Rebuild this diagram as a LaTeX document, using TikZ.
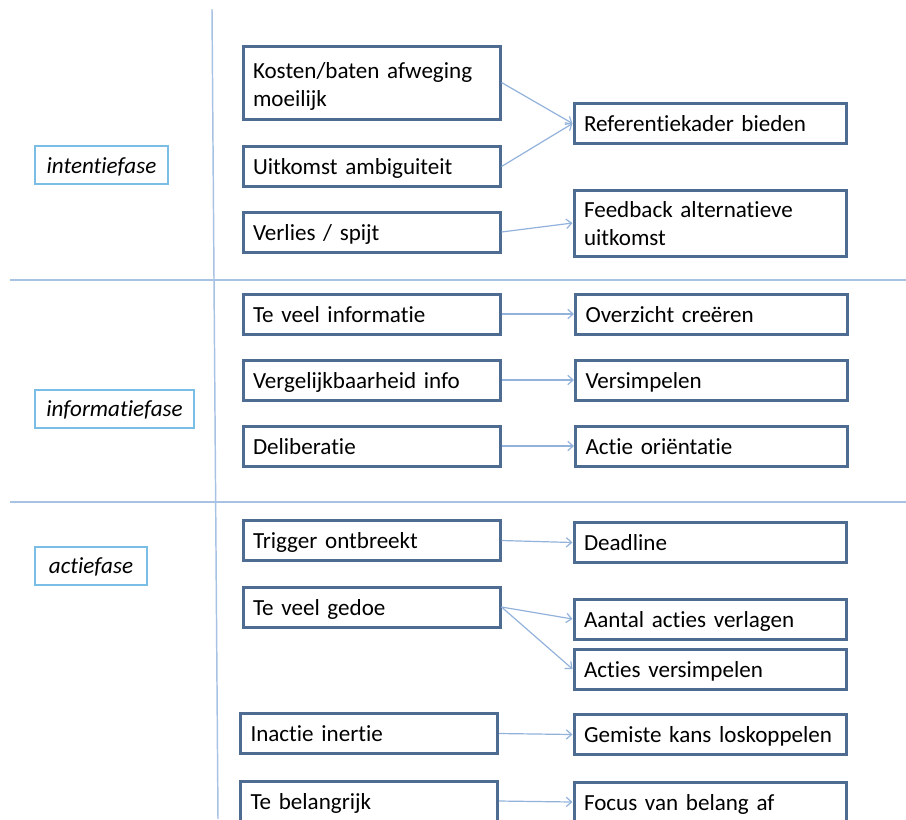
\documentclass[tikz,border=0pt]{standalone}
\usepackage{fontspec}
\setmainfont{Carlito}[Ligatures={NoCommon}]
\usetikzlibrary{arrows.meta}
\definecolor{boxblue}{RGB}{78,108,146}
\definecolor{lblblue}{RGB}{122,190,230}
\definecolor{sepblue}{RGB}{168,194,228}
\definecolor{arrblue}{RGB}{146,178,220}
\begin{document}
\begin{tikzpicture}[x=0.75pt,y=-0.75pt,
  base/.style={draw=boxblue, line width=2.25pt, inner xsep=7.5pt, inner ysep=0pt,
    minimum height=30pt, align=left, text height=12pt, text depth=0pt,
    font=\fontsize{17.3}{21}\selectfont},
  two/.style={text depth=21pt},
  mid/.style={base, text width=177.75pt},
  rgt/.style={base, text width=189pt},
  lbl/.style={draw=lblblue, line width=1.5pt, minimum height=28.5pt, inner xsep=0pt,
    inner ysep=0pt, align=center, text height=12pt, text depth=0pt,
    font=\itshape\fontsize{17.3}{20}\selectfont},
  sep/.style={draw=sepblue, line width=1.1pt},
  arr/.style={draw=arrblue, line width=0.9pt, -{Straight Barb[length=4pt,width=7pt]}}
]
\useasboundingbox (0,0) rectangle (906,819);

% separators
\coordinate (vtop) at (212,9);
\coordinate (vbot) at (218,819);
\coordinate (h1l) at (10,280);
\coordinate (h1r) at (906,280);
\coordinate (h2l) at (10,502);
\coordinate (h2r) at (906,502);
\draw[sep] (vtop) -- (vbot);
\draw[sep] (h1l) -- (h1r);
\draw[sep] (h2l) -- (h2r);

% phase labels
\node[lbl, minimum width=99.75pt] (intentie) at (101.5,165) {intentiefase};
\node[lbl, minimum width=119.25pt] (informatie) at (114.5,408.5) {informatiefase};
\node[lbl, minimum width=84pt] (actie) at (91,565.5) {actiefase};

% middle column
\node[mid, two, text depth=17.5pt, minimum height=54.75pt] (kosten) at (371.5,82.5) {Kosten/baten afweging\\moeilijk};
\node[mid] (uitkomst) at (371.5,166.5) {Uitkomst ambiguiteit};
\node[mid] (verlies) at (371.5,232) {Verlies / spijt};
\node[mid] (teveel) at (371.5,314) {Te veel informatie};
\node[mid] (vergelijk) at (371.5,380) {Vergelijkbaarheid info};
\node[mid] (delib) at (371.5,446) {Deliberatie};
\node[mid] (trigger) at (371.5,540.5) {Trigger ontbreekt};
\node[mid] (gedoe) at (371.5,607) {Te veel gedoe};
\node[mid] (inactie) at (369,733.5) {Inactie inertie};
\node[mid] (belangrijk) at (369,801) {Te belangrijk};

% right column
\node[rgt] (ref) at (710,123.5) {Referentiekader bieden};
\node[rgt, two, minimum height=49.5pt] (feedback) at (710,223) {Feedback alternatieve\\uitkomst};
\node[rgt] (overzicht) at (711.5,314) {Overzicht creëren};
\node[rgt] (versimpelen) at (711.5,380) {Versimpelen};
\node[rgt] (actieor) at (711.5,446) {Actie oriëntatie};
\node[rgt] (deadline) at (710,542.5) {Deadline};
\node[rgt] (aantal) at (710,619) {Aantal acties verlagen};
\node[rgt] (acties) at (710,669) {Acties versimpelen};
\node[rgt] (gemiste) at (710,734.5) {Gemiste kans loskoppelen};
\node[rgt] (focus) at (710,802) {Focus van belang af};

% arrows
\draw[arr] (kosten.east) -- (ref.west);
\draw[arr] (uitkomst.east) -- (ref.west);
\draw[arr] (verlies.east) -- (feedback.west);
\draw[arr] (teveel.east) -- (overzicht.west);
\draw[arr] (vergelijk.east) -- (versimpelen.west);
\draw[arr] (delib.east) -- (actieor.west);
\draw[arr] (trigger.east) -- (deadline.west);
\draw[arr] (gedoe.east) -- (aantal.west);
\draw[arr] (gedoe.east) -- (acties.west);
\draw[arr] (inactie.east) -- (gemiste.west);
\draw[arr] (belangrijk.east) -- (focus.west);
\end{tikzpicture}
\end{document}
